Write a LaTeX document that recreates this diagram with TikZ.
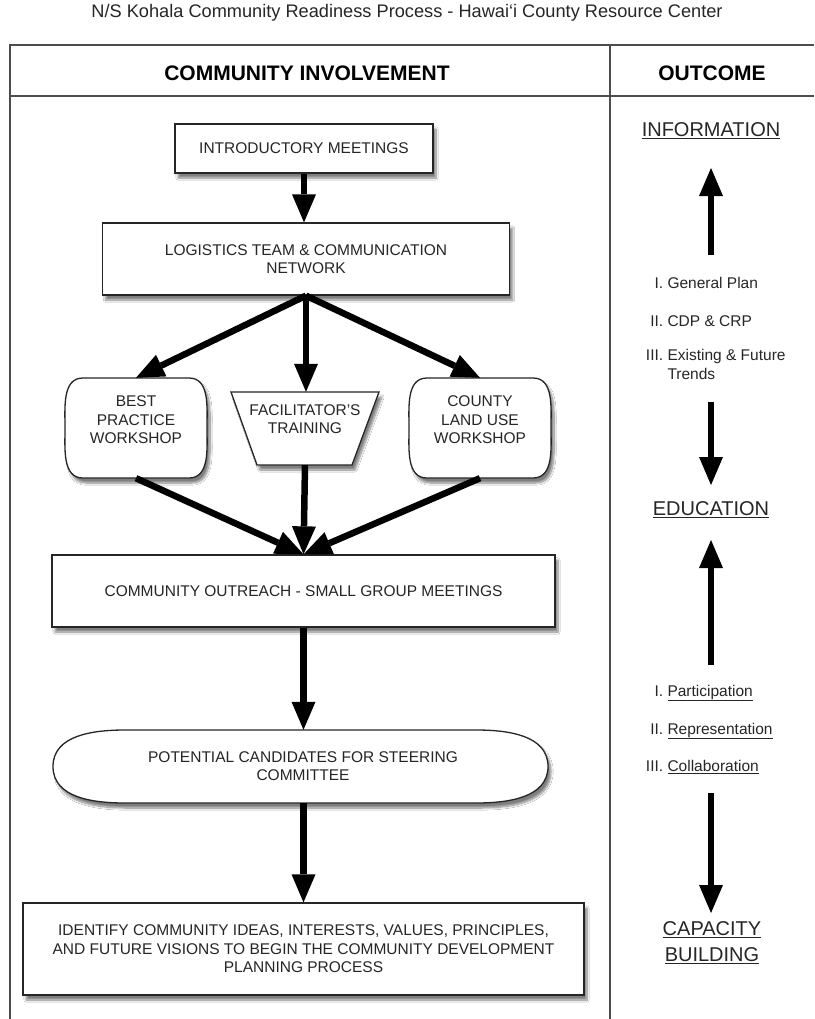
\documentclass[tikz,border=0pt]{standalone}
\usepackage{fontspec}
\setmainfont{Liberation Sans}
\usetikzlibrary{arrows.meta,shadows.blur}
\newcommand{\romnum}[1]{\makebox[19pt][r]{#1}\ }
\begin{document}
\begin{tikzpicture}[x=1pt,y=-1pt,
  frame/.style={draw=black!70,line width=1.5pt},
  shad/.style={blur shadow={shadow xshift=3pt,shadow yshift=-5pt,shadow blur steps=10,shadow opacity=50}},
  box/.style={draw=black!85,line width=1.3pt,fill=white,shad},
  btxt/.style={font=\fontsize{15.5}{18.5}\selectfont,text=black!85,align=center},
  anch/.style={inner sep=0pt},
  flow/.style={draw=black,line width=6.5pt,fill opacity=1,draw opacity=1,-{Triangle[width=24pt,length=28pt,line width=0pt,fill=black]}},
  hdr/.style={font=\bfseries\fontsize{21}{25}\selectfont},
  big/.style={font=\fontsize{20}{26}\selectfont,text=black!85,align=center},
  small/.style={font=\fontsize{15.5}{19}\selectfont,text=black!85,anchor=west,inner sep=0pt}]

\useasboundingbox (0,0) rectangle (814,1019);
\fill[white] (0,0) rectangle (814,1019);

\node[font=\fontsize{18.2}{21}\selectfont,text=black!85] (title) at (407,13) {N/S Kohala Community Readiness Process - Hawai`i County Resource Center};

% frame
\draw[frame] (814,45) -- (10,45) -- (10,1019);
\draw[frame] (10,96) -- (814,96);
\draw[frame] (610,45) -- (610,1019);
\node[hdr] (h1) at (307,73) {COMMUNITY INVOLVEMENT};
\node[hdr] (h2) at (712,73) {OUTCOME};

% rectangles
\node[box,btxt,minimum width=258pt,minimum height=49pt] (intro) at (304,148.5) {INTRODUCTORY MEETINGS};
\node[box,btxt,minimum width=407pt,minimum height=72pt] (logi) at (306,259) {LOGISTICS TEAM \& COMMUNICATION\\NETWORK};

% best practice
\draw[box] (83,378) -- (189,378) to[out=0,in=90] (207,428) to[out=-90,in=0] (189,478) -- (83,478) to[out=180,in=-90] (65,428) to[out=90,in=180] (83,378) -- cycle;
\node[anch,minimum width=142pt,minimum height=100pt] (best) at (136,428) {};
\node[btxt] (bestt) at (136,420) {BEST\\PRACTICE\\WORKSHOP};

% facilitator
\draw[box] (231,392) -- (379,392) -- (352,465) -- (257,465) -- cycle;
\node[anch,minimum width=148pt,minimum height=73pt] (fac) at (305,428.5) {};
\node[btxt] (fact) at (305,419) {FACILITATOR'S\\TRAINING};

% county
\draw[box] (427,378) -- (533,378) to[out=0,in=90] (551,428) to[out=-90,in=0] (533,478) -- (427,478) to[out=180,in=-90] (409,428) to[out=90,in=180] (427,378) -- cycle;
\node[anch,minimum width=142pt,minimum height=100pt] (county) at (480,428) {};
\node[btxt] (countyt) at (480,420) {COUNTY\\LAND USE\\WORKSHOP};

\node[box,btxt,minimum width=503pt,minimum height=72pt] (out) at (303.5,591) {COMMUNITY OUTREACH - SMALL GROUP MEETINGS};

% potential candidates
\draw[box] (125,730) -- (476,730) to[out=0,in=90] (548,766.5) to[out=-90,in=0] (476,803) -- (125,803) to[out=180,in=-90] (53,766.5) to[out=90,in=180] (125,730) -- cycle;
\node[anch,minimum width=495pt,minimum height=73pt] (pot) at (300.5,766.5) {};
\node[btxt] (pott) at (303,766) {POTENTIAL CANDIDATES FOR STEERING\\COMMITTEE};

\node[box,btxt,minimum width=561pt,minimum height=92pt] (iden) at (303.5,949) {IDENTIFY COMMUNITY IDEAS, INTERESTS, VALUES, PRINCIPLES,\\AND FUTURE VISIONS TO BEGIN THE COMMUNITY DEVELOPMENT\\PLANNING PROCESS};

% flow arrows
\draw[flow] (intro.south) -- (intro.south |- logi.north);
\draw[flow] (logi.south) -- (best.north);
\draw[flow] (logi.south) -- (logi.south |- fac.north);
\draw[flow] (logi.south) -- (county.north);
\draw[flow] (best.south) -- (out.north);
\draw[flow] (fac.south) -- (out.north);
\draw[flow] (county.south) -- (out.north);
\draw[flow] (out.south) -- (out.south |- pot.north);
\draw[flow] (out.south |- pot.south) -- (out.south |- iden.north);

% outcome column
\node[big] (info) at (711,131) {\underline{INFORMATION}};
\node[small] (g1) at (644,283) {\romnum{I.}General Plan};
\node[small] (g2) at (644,321) {\romnum{II.}CDP \& CRP};
\node[small] (g3) at (644,366.5) {\begin{tabular}{@{}r@{\ }l@{}}\makebox[19pt][r]{III.} & Existing \& Future\\ & Trends\end{tabular}};
\node[big] (edu) at (711,510) {\underline{EDUCATION}};
\node[small] (p1) at (644,693) {\romnum{I.}\underline{Participation}};
\node[small] (p2) at (644,731) {\romnum{II.}\underline{Representation}};
\node[small] (p3) at (644,767) {\romnum{III.}\underline{Collaboration}};
\node[big] (cap) at (712,943) {\underline{CAPACITY}\\\underline{BUILDING}};

\coordinate (a1s) at (711,255); \coordinate (a1e) at (711,168);
\coordinate (a2s) at (711,402); \coordinate (a2e) at (711,485);
\coordinate (a3s) at (711,665); \coordinate (a3e) at (711,540);
\coordinate (a4s) at (711,793); \coordinate (a4e) at (711,913);
\draw[flow] (a1s) -- (a1e);
\draw[flow] (a2s) -- (a2e);
\draw[flow] (a3s) -- (a3e);
\draw[flow] (a4s) -- (a4e);
\end{tikzpicture}
\end{document}
